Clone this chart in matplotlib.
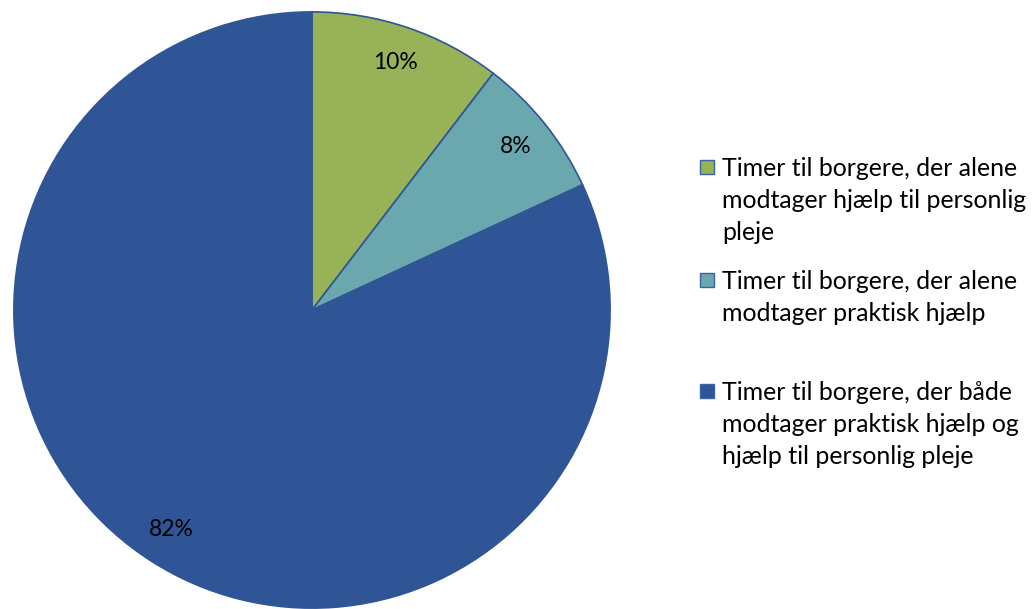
import matplotlib.pyplot as plt
from matplotlib.patches import Rectangle

# slice shares and the printed percentages
shares = [10.4, 7.7, 81.9]
pct_labels = ['10%', '8%', '82%']
categories = [
    'Timer til borgere, der alene\nmodtager hjælp til personlig\npleje',
    'Timer til borgere, der alene\nmodtager praktisk hjælp',
    'Timer til borgere, der både\nmodtager praktisk hjælp og\nhjælp til personlig pleje',
]
colors = ['#97B257', '#6AA7AE', '#2F5597']

plt.rcParams['font.family'] = ['Lato', 'DejaVu Sans']

fig = plt.figure(figsize=(10.33, 6.09), dpi=100)
ax = fig.add_axes([13 / 1033, 0, 598 / 1033, 598 / 609])
wedges, texts, autotexts = ax.pie(shares, colors=colors, startangle=90, counterclock=False,
                                  autopct='%1.0f%%', pctdistance=0.875,
                                  wedgeprops=dict(edgecolor='#2F5597', linewidth=1.2),
                                  textprops=dict(fontsize=16.5, color='black'))
for t, lab in zip(autotexts, pct_labels):
    t.set_text(lab)
ax.set_xlim(-1.003, 1.003)
ax.set_ylim(-1.003, 1.003)
ax.set_aspect('equal')
ax.axis('off')

# legend, drawn by hand to keep Excel's uneven spacing
text_tops = [157, 270, 381]
for col, lab, top in zip(colors, categories, text_tops):
    fig.patches.append(Rectangle((700 / 1033, 1 - (top + 17) / 609), 14 / 1033, 14 / 609,
                                 transform=fig.transFigure, facecolor=col,
                                 edgecolor='#3A62A8', linewidth=1.0))
    fig.text(722 / 1033, 1 - top / 609, lab, fontsize=17.9, va='top', ha='left',
             linespacing=1.48, color='black')

fig.savefig('out.png', dpi=100)
